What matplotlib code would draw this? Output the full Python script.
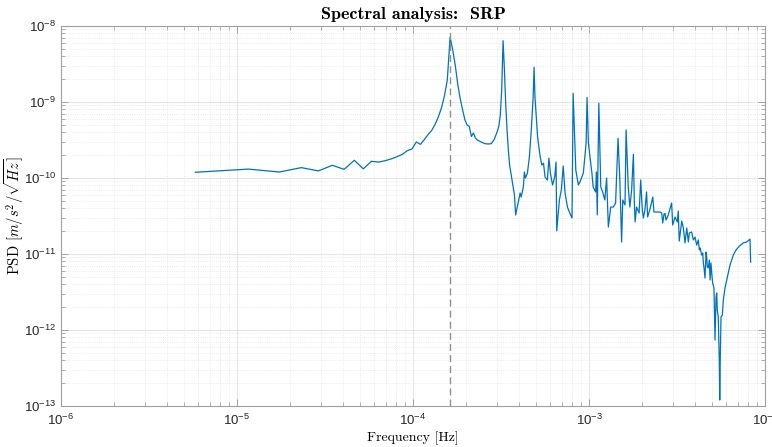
import numpy as np
import matplotlib
matplotlib.use("Agg")
import matplotlib.pyplot as plt
from matplotlib.ticker import LogLocator, NullFormatter

plt.rcParams["font.family"] = ["Liberation Sans", "DejaVu Sans"]

# Frequency resolution of the spectrum and orbital frequency bin
df = 5.8e-6
orbit_bin = 28

# PSD samples: FFT bin index and amplitude spectral density [m/s^2/sqrt(Hz)]
bin_index = [
    1, 2, 3, 4, 5, 6, 7, 8, 9, 10, 11, 12, 13, 14, 15, 16, 17, 18, 19, 20,
    21, 22, 23, 24, 25, 26, 27, 28, 29, 30, 31, 32, 33, 34, 35, 36, 37, 38, 39, 40,
    42, 44, 46, 48, 50, 52, 53, 54, 55, 56, 57, 58, 59, 60, 61, 63, 65, 66, 68, 70,
    71, 73, 74, 75, 77, 79, 81, 83, 84, 85, 88, 91, 93, 95, 97, 100, 102, 104, 107, 110,
    112, 113, 117, 120, 123, 126, 130, 134, 138, 140, 145, 150, 153, 160, 166, 168, 171, 179, 182, 188,
    190, 192, 196, 201, 206, 212, 217, 222, 229, 237, 244, 252, 258, 264, 268, 276, 280, 288, 294, 301,
    308, 312, 315, 321, 332, 339, 346, 351, 358, 366, 371, 383, 397, 403, 418, 436, 446, 452, 460, 466,
    472, 486, 508, 515, 531, 547, 554, 561, 580, 592, 605, 619, 632, 640, 660, 675, 690, 705, 720, 730,
    737, 753, 763, 769, 776, 786, 797, 804, 810, 821, 832, 840, 850, 858, 869, 884, 896, 908, 916, 923,
    935, 948, 953, 960, 969, 986, 999, 1021, 1044, 1066, 1090, 1114, 1138, 1180, 1231, 1297, 1357, 1416, 1428,
]

psd = [
    1.19e-10, 1.31e-10, 1.20e-10, 1.37e-10, 1.24e-10, 1.47e-10, 1.30e-10, 1.71e-10, 1.32e-10, 1.66e-10,
    1.62e-10, 1.69e-10, 1.79e-10, 1.91e-10, 2.05e-10, 2.29e-10, 2.41e-10, 2.98e-10, 2.77e-10, 3.21e-10,
    3.74e-10, 4.22e-10, 5.06e-10, 6.35e-10, 8.34e-10, 1.20e-9, 1.95e-9, 7.10e-9, 4.83e-9, 2.98e-9,
    1.67e-9, 1.095e-9, 7.85e-10, 5.80e-10, 4.98e-10, 4.76e-10, 3.52e-10, 3.91e-10, 3.36e-10, 3.16e-10,
    2.98e-10, 2.84e-10, 2.80e-10, 2.83e-10, 3.26e-10, 4.15e-10, 4.83e-10, 6.75e-10, 1.44e-9, 6.41e-9,
    2.64e-9, 9.14e-10, 4.29e-10, 2.33e-10, 1.48e-10, 9.42e-11, 5.97e-11, 3.26e-11, 4.55e-11, 6.35e-11,
    5.62e-11, 7.62e-11, 1.20e-10, 1.00e-10, 1.16e-10, 1.89e-10, 4.29e-10, 1.16e-9, 2.86e-9, 1.16e-9,
    3.46e-10, 1.89e-10, 1.48e-10, 1.57e-10, 1.03e-10, 9.42e-11, 1.83e-10, 1.16e-10, 8.09e-11, 1.03e-10,
    1.62e-10, 2.01e-11, 5.14e-11, 6.95e-11, 1.44e-10, 6.35e-11, 4.15e-11, 3.46e-11, 2.98e-11, 1.30e-9,
    1.27e-10, 8.09e-11, 8.85e-11, 1.16e-10, 2.89e-10, 1.15e-9, 2.89e-10, 1.16e-10, 7.62e-11, 6.55e-11,
    1.20e-10, 3.26e-11, 9.61e-10, 7.62e-11, 6.55e-11, 5.14e-11, 1.00e-10, 2.26e-11, 4.15e-11, 4.15e-11,
    4.69e-11, 3.33e-10, 9.42e-11, 1.44e-11, 5.14e-11, 4.42e-11, 4.29e-10, 7.62e-11, 4.15e-11, 6.95e-11,
    2.05e-10, 4.69e-11, 2.64e-11, 4.15e-11, 3.46e-11, 9.42e-11, 3.79e-11, 2.98e-11, 3.79e-11, 6.55e-11,
    3.07e-11, 3.91e-11, 5.62e-11, 3.57e-11, 3.57e-11, 3.57e-11, 3.46e-11, 2.56e-11, 3.36e-11, 3.41e-11,
    2.80e-11, 3.26e-11, 4.69e-11, 2.41e-11, 3.07e-11, 2.64e-11, 3.68e-11, 1.48e-11, 2.72e-11, 2.20e-11,
    1.40e-11, 2.20e-11, 1.44e-11, 1.89e-11, 1.95e-11, 1.53e-11, 1.67e-11, 1.31e-11, 1.53e-11, 1.13e-11,
    1.20e-11, 9.70e-12, 1.03e-11, 7.62e-12, 6.55e-12, 4.83e-12, 1.06e-11, 9.14e-12, 6.75e-12, 6.55e-12,
    8.34e-12, 4.55e-12, 7.62e-12, 5.62e-12, 4.15e-12, 3.57e-12, 7.38e-13, 2.72e-12, 3.07e-12, 1.83e-12,
    1.48e-12, 3.68e-13, 1.20e-13, 4.42e-13, 1.48e-12, 1.57e-12, 2.48e-12, 3.57e-12, 4.55e-12, 5.80e-12,
    7.16e-12, 8.34e-12, 9.70e-12, 1.13e-11, 1.27e-11, 1.40e-11, 1.44e-11, 1.57e-11, 7.85e-12,
]

freq = np.asarray(bin_index) * df
f_orb = orbit_bin * df

fig = plt.figure(figsize=(7.72, 4.47), dpi=100)
ax = fig.add_axes([0.079, 0.0917, 0.912, 0.8501])

ax.loglog(freq, psd, color="#0072BD", linewidth=0.9)
ax.axvline(f_orb, color="#8f8f8f", linestyle=(0, (5, 3)), linewidth=1.0)

ax.set_xlim(1e-6, 1e-2)
ax.set_ylim(1e-13, 1e-8)

ax.xaxis.set_major_locator(LogLocator(base=10, numticks=10))
ax.yaxis.set_major_locator(LogLocator(base=10, numticks=10))
ax.xaxis.set_minor_locator(LogLocator(base=10, subs=np.arange(2, 10), numticks=20))
ax.yaxis.set_minor_locator(LogLocator(base=10, subs=np.arange(2, 10), numticks=20))
ax.xaxis.set_minor_formatter(NullFormatter())
ax.yaxis.set_minor_formatter(NullFormatter())

ax.grid(which="major", color="#e0e0e0", linestyle="-", linewidth=0.6)
ax.grid(which="minor", color="#e4e4e4", linestyle=":", linewidth=0.6)
ax.set_axisbelow(True)

for s in ax.spines.values():
    s.set_color("#a0a0a0")
    s.set_linewidth(0.8)

ax.tick_params(which="both", direction="in", top=True, right=True,
               colors="#a0a0a0", labelcolor="#262626", labelsize=9.5)
ax.tick_params(which="major", length=5, width=0.7)
ax.tick_params(which="minor", length=2.8, width=0.6)
ax.tick_params(axis="x", which="major", pad=5)

ax.set_title("Spectral analysis:  SRP", fontfamily="cmb10", fontsize=13, pad=5)
ax.set_xlabel("Frequency [Hz]", fontfamily="cmr10", fontsize=10)
ax.set_ylabel(r"PSD $[m/s^2/\sqrt{Hz}]$", fontfamily="cmr10", math_fontfamily="cm",
              fontsize=10.5)
ax.xaxis.set_label_coords(0.5, -0.067)
ax.yaxis.set_label_coords(-0.050, 0.5)

fig.savefig("out.png", dpi=100)
